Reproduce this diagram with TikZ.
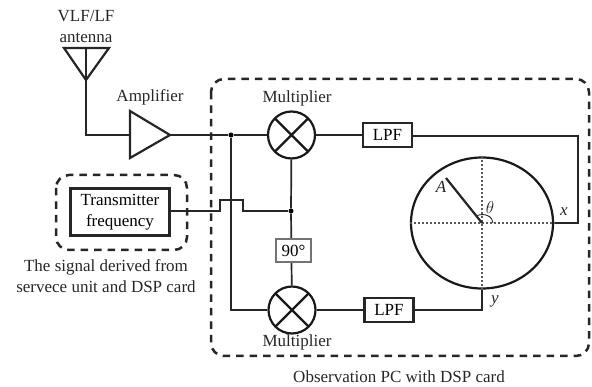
\documentclass[tikz,border=0pt]{standalone}
\usepackage{fontspec}
\setmainfont{Liberation Serif}
\usetikzlibrary{shapes.geometric,calc}
\tikzset{
  ln/.style={line width=1.7pt,draw=black!85,line join=miter},
  thick box/.style={draw=black!85,line width=2.2pt,fill=white,inner sep=0pt,align=center},
  lpf/.style={thick box,minimum width=49pt,minimum height=24pt},
  grey box/.style={draw=black!55,line width=1.1pt,fill=white,inner sep=0pt,minimum width=35pt,minimum height=23pt},
  mult/.style={circle,draw=black!90,line width=2.2pt,minimum size=47pt,inner sep=0pt,path picture={
     \draw[black!90,line width=2.2pt] (path picture bounding box.south west)--(path picture bounding box.north east)
       (path picture bounding box.north west)--(path picture bounding box.south east);}},
  lab/.style={font=\fontsize{17}{20}\selectfont,text=black!85,inner sep=0pt,align=center},
  mlab/.style={lab,font=\fontsize{17}{20}\selectfont\itshape},
  dashbox/.style={draw=black!85,line width=2.5pt,dash pattern=on 7.5pt off 6pt,rounded corners=13pt},
  dotline/.style={draw=black!65,line width=1.5pt,dash pattern=on 1.6pt off 2.4pt},
  jn/.style={circle,fill=black,inner sep=0pt,minimum size=5pt}
}
\begin{document}
\begin{tikzpicture}[x=1pt,y=-1pt]
\useasboundingbox (0,0) rectangle (592,387);
% dashed frames
\draw[dashbox] (211,79) rectangle (589,356);
\draw[dashbox] (56,175) rectangle (187,250);
% coordinates
\coordinate (antL) at (64,48);
\coordinate (antR) at (109,48);
\coordinate (antT) at (86,48);
\coordinate (antB) at (86,80);
\coordinate (antC) at (86,135);
\coordinate (ampA) at (130,111);
\coordinate (ampB) at (130,158);
\coordinate (ampI) at (130,135);
\coordinate (ampO) at (170,135);
\coordinate (xc) at (578,136);
\coordinate (xd) at (578,223);
\coordinate (yd) at (482,310);
\coordinate (s1) at (220,211);
\coordinate (s2) at (220,200);
\coordinate (s3) at (243,200);
\coordinate (s4) at (243,211);
\coordinate (o) at (482,223);
\coordinate (tipA) at (446,178);
\coordinate (lc) at (231,310);
% nodes
\node[mult] (m1) at (291.5,135) {};
\node[mult] (m2) at (292,310) {};
\node[lpf] (f1) at (387.5,135) {\fontsize{17}{20}\selectfont LPF};
\node[lpf] (f2) at (389,310) {\fontsize{17}{20}\selectfont LPF};
\node[jn] (j1) at (231,135) {};
\node[jn] (j2) at (291,211) {};
\node[thick box,minimum width=99pt,minimum height=47pt,font=\fontsize{17}{20.5}\selectfont] (tx) at (120,212) {Transmitter\\frequency};
\node[ellipse,draw=black!90,line width=2.2pt,minimum width=142pt,minimum height=131pt,inner sep=0pt] (disc) at (482,223) {};
% connectors
\draw[ln] (antB) -- (antC) -- (ampI);
\draw[ln] (antT) -- (antB);
\draw[ln,line width=2.2pt] (antL) -- (antR) -- (antB) -- cycle;
\draw[ln,line width=2.2pt,fill=white] (ampA) -- (ampO) -- (ampB) -- cycle;
\draw[ln] (ampO) -- (j1) -- (m1);
\draw[ln] (j1) -- (lc) -- (m2);
\draw[ln] (m1) -- (j2);
\draw[ln] (j2) -- (m2);
\node[grey box] (ph) at (293.5,250.5) {\fontsize{17}{20}\selectfont 90°};
\draw[ln] (tx.east |- s1) -- (s1) -- (s2) -- (s3) -- (s4) -- (j2);
\draw[ln] (m1) -- (f1);
\draw[ln] (f1.east |- xc) -- (xc) -- (xd) -- (disc.east);
\draw[ln] (m2) -- (f2);
\draw[ln] (f2) -- (yd) -- (disc.south);
\draw[dotline] (disc.west) -- (disc.east);
\draw[dotline] (disc.north) -- (disc.south);
\draw[ln,line width=2.2pt] (o) -- (tipA);
\draw[ln,line width=0.9pt] ($(o)+(-6,-7)$) .. controls ($(o)+(3,-11)$) and ($(o)+(11,-6)$) .. ($(o)+(11,0)$);
% labels
\node[lab] (t1) at (86,16) {VLF/LF};
\node[lab] (t2) at (86,38) {antenna};
\node[lab] (t3) at (150,97) {Amplifier};
\node[lab] (t4) at (297,98) {Multiplier};
\node[lab] (t5) at (297,342) {Multiplier};
\node[lab] (t6) at (106,267) {The signal derived from};
\node[lab] (t7) at (106,287) {servece unit and DSP card};
\node[lab] (t8) at (399,377) {Observation PC with DSP card};
\node[mlab] (tx1) at (564,212) {x};
\node[mlab] (ty1) at (495,301) {y};
\node[mlab] (tA) at (441,187) {A};
\node[mlab] (tth) at (490,208) {$\theta$};
\end{tikzpicture}
\end{document}
